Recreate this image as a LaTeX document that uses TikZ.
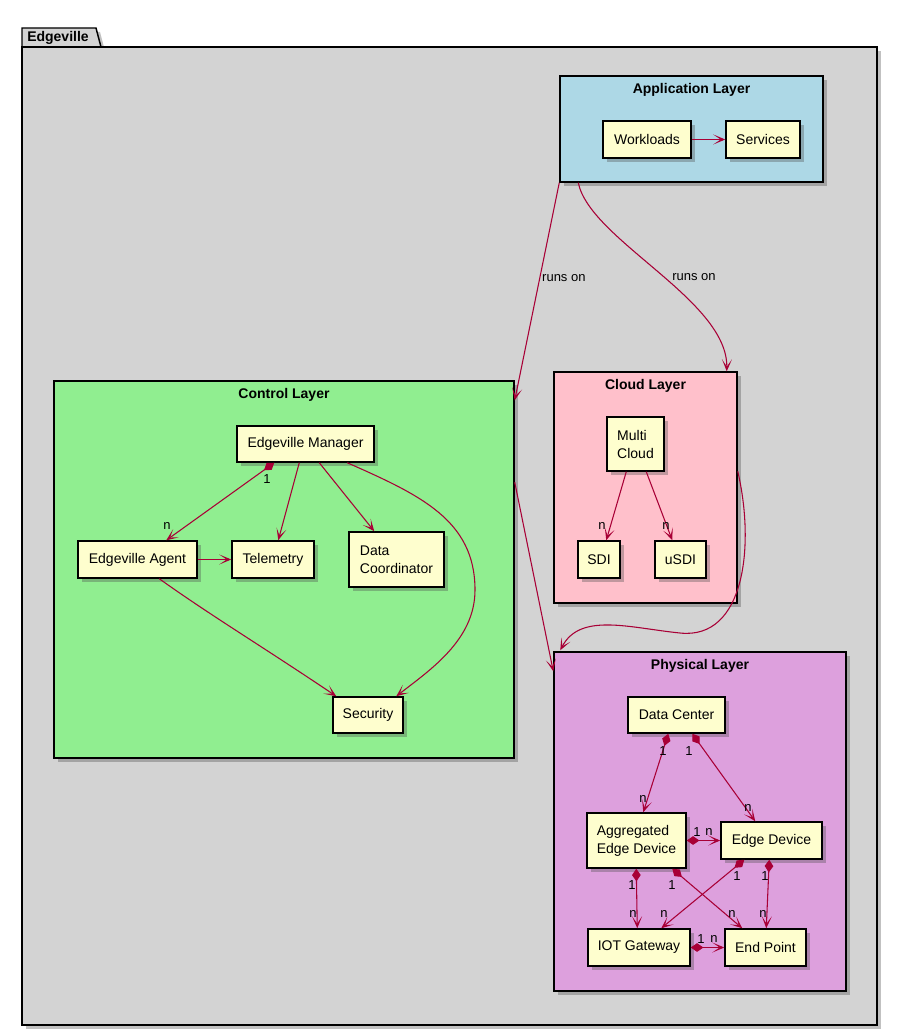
\documentclass[tikz,border=0pt]{standalone}
\usepackage{fontspec}
\setmainfont{Liberation Sans}
\usetikzlibrary{arrows.meta,shadows,calc}
\definecolor{arr}{HTML}{A80036}
\definecolor{nodefill}{HTML}{FEFECE}
\definecolor{pkgfill}{HTML}{D3D3D3}
\definecolor{appfill}{HTML}{ADD8E6}
\definecolor{ctrlfill}{HTML}{90EE90}
\definecolor{cloudfill}{HTML}{FFC0CB}
\definecolor{physfill}{HTML}{DDA0DD}
\begin{document}
\begin{tikzpicture}[x=0.75pt,y=-0.75pt,
  shad/.style={drop shadow={shadow xshift=3pt,shadow yshift=-3pt,opacity=0.35,fill=black!70}},
  box/.style={draw=black,line width=1.1pt,fill=nodefill,inner sep=0pt,minimum height=27.75pt,
    font=\fontsize{10.5}{13.5}\selectfont,align=left,shad},
  layer/.style={draw=black,line width=1.1pt,inner sep=0pt,shad},
  ttl/.style={font=\fontsize{10.5}{13}\selectfont\bfseries,inner sep=0pt},
  lbl/.style={font=\fontsize{9.75}{11}\selectfont,inner sep=0pt},
  tip/.tip={Stealth[length=9pt,width=7.5pt,inset=5.5pt]},
  conn/.style={draw=arr,line width=0.8pt,-tip},
  comp/.style={draw=arr,line width=0.8pt,{Diamond[length=9.5pt,width=6.5pt]}-tip},
]
\useasboundingbox (0,0) rectangle (898,1034);

% package
\draw[fill=pkgfill,line width=1.1pt,shad] (22,47) -- (22,28) -- (96,28) -- (101,47) -- cycle;
\node[layer,fill=pkgfill,minimum width=641.25pt,minimum height=733.5pt] (pkg) at (449.5,536) {};
\node[ttl,anchor=west] (pkgT) at (27,38) {Edgeville};

% layers
\node[layer,fill=appfill,minimum width=197.25pt,minimum height=79.5pt] (appl) at (691.5,129) {};
\node[ttl,below=6pt] (applT) at (appl.north) {Application Layer};
\node[layer,fill=ctrlfill,minimum width=345pt,minimum height=282.75pt] (ctrl) at (284,569.5) {};
\node[ttl,below=6pt] (ctrlT) at (ctrl.north) {Control Layer};
\node[layer,fill=cloudfill,minimum width=137.25pt,minimum height=173.25pt] (cloud) at (645.5,487.5) {};
\node[ttl,below=6pt] (cloudT) at (cloud.north) {Cloud Layer};
\node[layer,fill=physfill,minimum width=219pt,minimum height=254.25pt] (phys) at (700,821.5) {};
\node[ttl,below=6pt] (physT) at (phys.north) {Physical Layer};

% application nodes
\node[box,minimum width=66pt] (work) at (647,139.5) {Workloads};
\node[box,minimum width=55.5pt] (serv) at (763,139.5) {Services};

% control nodes
\node[box,minimum width=102.75pt,minimum height=27pt] (mgr) at (305.5,444) {Edgeville Manager};
\node[box,minimum width=89.25pt] (agent) at (137.5,559.5) {Edgeville Agent};
\node[box,minimum width=61.5pt] (tele) at (273,559.5) {Telemetry};
\node[box,minimum width=71.25pt,minimum height=41.25pt] (dc) at (396.5,559.5) {Data\\Coordinator};
\node[box,minimum width=52.5pt,minimum height=27pt] (sec) at (368,715) {Security};

% cloud nodes
\node[box,minimum width=42.75pt,minimum height=40.5pt] (mc) at (635.5,444) {Multi\\Cloud};
\node[box,minimum width=31.5pt] (sdi) at (599,559.5) {SDI};
\node[box,minimum width=38.25pt] (usdi) at (680.5,559.5) {uSDI};

% physical nodes
\node[box,minimum width=72.75pt,minimum height=27pt] (dcen) at (676.5,715) {Data Center};
\node[box,minimum width=74.25pt,minimum height=41.25pt] (aed) at (636.5,840.5) {Aggregated\\Edge Device};
\node[box,minimum width=75.75pt] (ed) at (771.5,840.5) {Edge Device};
\node[box,minimum width=76.5pt] (iot) at (639,947.5) {IOT Gateway};
\node[box,minimum width=60.75pt] (ep) at (765.5,947.5) {End Point};

% application edges
\draw[conn] (work) -- (serv);
\draw[conn] (appl.south west) -- ($(ctrl.north east)+(0,20)$)
  node[lbl,pos=0.44,right=1.5pt] (ro1) {runs on};
\draw[conn] ($(appl.south west)+(19,0)$) .. controls (590,240) and (728,300) .. ($(cloud.north east)+(-11,0)$)
  node[lbl,pos=0.53,right=6pt] (ro2) {runs on};

% inter-layer edges
\draw[conn] ($(ctrl.north east)+(0,102)$) -- ($(phys.north west)+(0,20)$);
\draw[conn] ($(cloud.north east)+(0,100)$) .. controls (755,545) and (745,640) .. (680,633)
  .. controls (630,628) and (580,612) .. ($(phys.north west)+(7,-1)$);

% control edges
\draw[comp] ($(mgr.south west)+(38,0)$) -- ($(agent.north west)+(89,0)$);
\node[lbl] (l1) at (267,479) {1};
\node[lbl] (l2) at (167,526) {n};
\draw[conn] ($(mgr.south west)+(63,0)$) -- ($(tele.north west)+(47,0)$);
\draw[conn] ($(mgr.south west)+(83,0)$) -- ($(dc.north west)+(26,0)$);
\draw[conn] ($(mgr.south west)+(111,0)$) .. controls (420,495) and (475,520) .. (475,590)
  .. controls (475,640) and (430,670) .. ($(sec.north west)+(64,0)$);
\draw[conn] (agent) -- (tele);
\draw[conn] ($(agent.south west)+(82,0)$) .. controls (210,615) and (260,645) .. ($(sec.north west)+(4,0)$);

% cloud edges
\draw[conn] ($(mc.south west)+(20,0)$) -- ($(sdi.north west)+(29,0)$);
\node[lbl] (l3) at (602,526) {n};
\draw[conn] ($(mc.south west)+(40,0)$) -- ($(usdi.north west)+(18,0)$);
\node[lbl] (l4) at (666,526) {n};

% physical edges
\draw[comp] ($(dcen.south west)+(41,0)$) -- ($(aed.north west)+(57,0)$);
\node[lbl] (l5) at (663,751) {1};
\node[lbl] (l6) at (643,799) {n};
\draw[comp] ($(dcen.south west)+(65,0)$) -- ($(ed.north west)+(35,0)$);
\node[lbl] (l7) at (689,751) {1};
\node[lbl] (l8) at (748,808) {n};
\draw[comp] (aed.east) -- (ed.west);
\node[lbl] (l9) at (697,832) {1};
\node[lbl] (l10) at (709,832) {n};
\draw[comp] ($(aed.south west)+(50,0)$) -- ($(iot.north west)+(50,0)$);
\node[lbl] (l11) at (632,885) {1};
\node[lbl] (l12) at (633,914) {n};
\draw[comp] ($(aed.south west)+(86,0)$) -- ($(ep.north west)+(18,0)$);
\node[lbl] (l13) at (672,885) {1};
\node[lbl] (l14) at (732,914) {n};
\draw[comp] ($(ed.south west)+(24,0)$) -- ($(iot.north west)+(74,0)$);
\node[lbl] (l15) at (737,876) {1};
\node[lbl] (l16) at (664,914) {n};
\draw[comp] ($(ed.south west)+(49,0)$) -- ($(ep.north west)+(42,0)$);
\node[lbl] (l17) at (765,876) {1};
\node[lbl] (l18) at (763,914) {n};
\draw[comp] (iot.east) -- (ep.west);
\node[lbl] (l19) at (701,939) {1};
\node[lbl] (l20) at (714,939) {n};
\end{tikzpicture}
\end{document}
